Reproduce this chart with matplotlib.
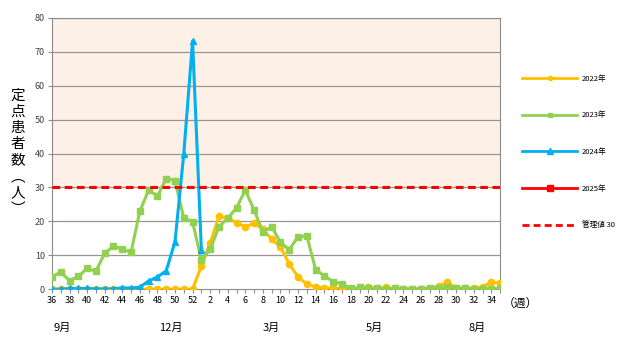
import numpy as np
import matplotlib
matplotlib.use("Agg")
import matplotlib.pyplot as plt
from matplotlib.lines import Line2D

plt.rcParams['font.family'] = ['Noto Sans CJK JP', 'DejaVu Sans']

# weeks 36..52 then 1..35
weeks = list(range(36, 53)) + list(range(1, 36))
tick_labels = [str(w) if w % 2 == 0 else "" for w in weeks]

y2022 = [0, 0, 0, 0, 0, 0, 0, 0, 0, 0, 0, 0, 0, 0, 0, 0, 0,
         6.8, 13.5, 21.5, 21.0, 19.6, 18.4, 19.4, 17.7, 14.7, 12.5,
         7.4, 3.6, 1.5, 0.7, 0.3, 0.3, 0.2, 0.1, 0.2, 0.5, 0.3, 0.5,
         0.2, 0.1, 0.0, 0.0, 0.1, 1.0, 2.0, 0.4, 0.2, 0.3, 0.7, 2.0, 1.9]
y2023 = [3.6, 5.1, 2.5, 3.8, 6.1, 5.3, 10.6, 12.7, 11.8, 10.9, 23.0,
         29.2, 27.5, 32.6, 32.0, 21.0, 19.9,
         8.5, 11.8, 18.4, 20.9, 24.0, 29.2, 23.3, 16.9, 18.4, 13.8,
         11.7, 15.4, 15.7, 5.8, 3.9, 2.2, 1.5, 0.2, 0.5, 0.3, 0.3,
         0.0, 0.2, 0.1, 0.0, 0.1, 0.4, 0.3, 0.5, 0.4, 0.3, 0.0, 0.0, 0.1, 0.2]
y2024 = [0.0, 0.0, 0.2, 0.2, 0.2, 0.1, 0.1, 0.1, 0.4, 0.3, 0.6,
         2.4, 3.6, 5.4, 14.0, 40.0, 73.2,
         11.7]
y2025 = []
threshold = 30

months = ["9月", "12月", "3月", "5月", "8月"]
month_pos = [1.2, 13.5, 25.0, 36.7, 48.4]

fig = plt.figure(figsize=(6.26, 3.39), dpi=100)
ax = fig.add_axes([0.083, 0.147, 0.716, 0.8])

x = np.arange(len(weeks))
ax.axhspan(threshold, 80, color='#FDF0E6', zorder=0)
for g in range(10, 90, 10):
    ax.axhline(g, color='#9a9390', lw=0.9, zorder=1)

ax.plot(x, y2022, color='#FFC000', marker='o', ms=4.5, lw=2.2, zorder=3)
ax.plot(x, y2023, color='#92D050', marker='s', ms=5, lw=2.2, zorder=4)
ax.plot(x[:len(y2024)], y2024, color='#00B0F0', marker='^', ms=5, lw=2.2, zorder=5)
ax.axhline(threshold, color='#FF0000', lw=2.2, ls=(0, (2.5, 1.5)), zorder=6)

ax.set_xlim(0, len(weeks) - 1)
ax.set_ylim(0, 80)
ax.set_yticks(range(0, 90, 10))
ax.set_xticks(x)
ax.set_xticklabels(tick_labels)
ax.tick_params(axis='both', labelsize=6.5, color='#8c8c8c', length=3, pad=2)
ax.tick_params(axis='y', labelcolor='#404040')
for s in ax.spines.values():
    s.set_color('#8c8c8c')

for m, p in zip(months, month_pos):
    ax.text(p, -11.5, m, fontsize=8, ha='center', va='center')
ax.text(len(weeks) + 1.3, -4.3, "（週）", fontsize=8.5, ha='center', va='center')

fig.text(0.028, 0.55, "\n".join("定点患者数︵人︶"), fontsize=10.5,
         ha='center', va='center', linespacing=1.2)

handles = [
    Line2D([], [], color='#FFC000', marker='o', ms=3, lw=2),
    Line2D([], [], color='#92D050', marker='s', ms=3, lw=2),
    Line2D([], [], color='#00B0F0', marker='^', ms=4, lw=2),
    Line2D([], [], color='#FF0000', marker='s', ms=5, lw=2),
    Line2D([], [], color='#FF0000', lw=2, ls=(0, (2.5, 1.5))),
]
labels = ["2022年", "2023年", "2024年", "2025年", "管理値 30"]
fig.legend(handles, labels, loc='upper left', bbox_to_anchor=(0.823, 0.8),
           frameon=False, fontsize=5.5, handlelength=7.2, labelspacing=3.75,
           handletextpad=0.6)

fig.savefig("out.png", dpi=100)
